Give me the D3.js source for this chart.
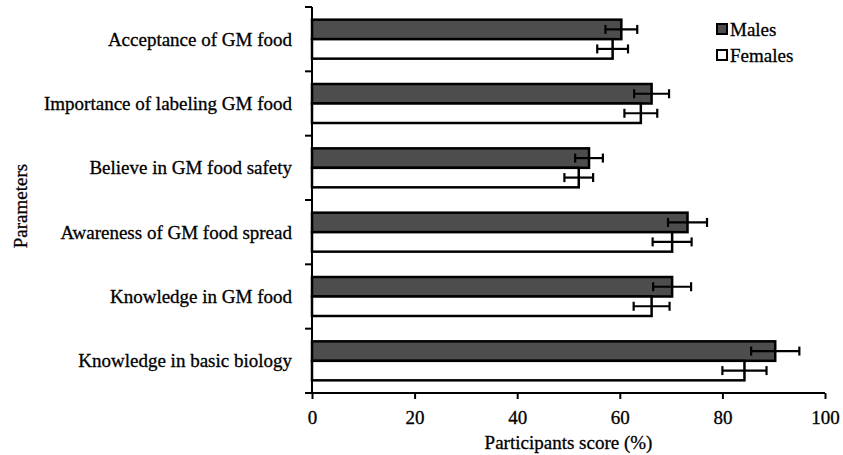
<!DOCTYPE html>
<html>
<head>
<meta charset="utf-8">
<script src="https://cdn.jsdelivr.net/npm/d3@7"></script>
<style>
  body { margin: 0; background: #fff; }
  svg text { font-family: "Liberation Serif", "Times New Roman", serif !important; fill: #000; stroke: #000; stroke-width: 0.3px; }
</style>
</head>
<body>
<svg id="chart" width="843" height="455"></svg>
<script>
const categories = [
  "Acceptance of GM food",
  "Importance of labeling GM food",
  "Believe in GM food safety",
  "Awareness of GM food spread",
  "Knowledge in GM food",
  "Knowledge in basic biology"
];
const males = [60.3, 66.2, 54.0, 73.2, 70.2, 90.3];
const maleErr = [3.1, 3.4, 2.7, 3.8, 3.7, 4.7];
const females = [58.6, 64.1, 52.0, 70.2, 66.2, 84.3];
const femaleErr = [3.0, 3.2, 2.8, 3.8, 3.5, 4.3];
const groups = ["Males", "Females"];
const xTicks = [0, 20, 40, 60, 80, 100];

const svg = d3.select("#chart"),
  margin = {top: 7, right: 18, bottom: 62, left: 312},
  width = 843 - margin.left - margin.right,
  height = 455 - margin.top - margin.bottom,
  g = svg.append("g").attr("transform", "translate(" + margin.left + "," + margin.top + ")");

const x = d3.scaleLinear().domain([0, 100]).range([0, width]);
const y = d3.scaleBand().domain(categories).range([0, height]).padding(0);
const y1 = d3.scaleBand().domain(groups).range([0, y.bandwidth()]).paddingInner(0).paddingOuter(0.65);
const fill = d3.scaleOrdinal().domain(groups).range(["#4d4d4d", "#ffffff"]);

const rows = categories.map((c, i) => ({
  cat: c,
  bars: [
    {key: "Males", value: males[i], err: maleErr[i]},
    {key: "Females", value: females[i], err: femaleErr[i]}
  ]
}));

// bars
const row = g.selectAll(".row")
  .data(rows)
  .enter().append("g")
    .attr("class", "row")
    .attr("transform", (d) => "translate(0," + y(d.cat) + ")");

row.selectAll("rect")
  .data((d) => d.bars)
  .enter().append("rect")
    .attr("x", x(0))
    .attr("y", (d) => y1(d.key))
    .attr("width", (d) => x(d.value) - x(0))
    .attr("height", y1.bandwidth())
    .attr("fill", (d) => fill(d.key))
    .attr("stroke", "#000")
    .attr("stroke-width", 2.5);

// error bars
const err = row.selectAll(".err")
  .data((d) => d.bars)
  .enter().append("g")
    .attr("class", "err")
    .attr("stroke", "#000")
    .attr("stroke-width", 2.2);

err.append("line")
  .attr("x1", (d) => x(d.value - d.err))
  .attr("x2", (d) => x(d.value + d.err))
  .attr("y1", (d) => y1(d.key) + y1.bandwidth() / 2)
  .attr("y2", (d) => y1(d.key) + y1.bandwidth() / 2);

[-1, 1].forEach((s) => {
  err.append("line")
    .attr("x1", (d) => x(d.value + s * d.err))
    .attr("x2", (d) => x(d.value + s * d.err))
    .attr("y1", (d) => y1(d.key) + y1.bandwidth() / 2 - 4.5)
    .attr("y2", (d) => y1(d.key) + y1.bandwidth() / 2 + 4.5);
});

// x axis
const xAxis = g.append("g")
  .attr("transform", "translate(0," + height + ")")
  .call(d3.axisBottom(x).tickValues(xTicks).tickSize(6).tickSizeOuter(0).tickPadding(12));
xAxis.select(".domain").attr("stroke-width", 2).attr("d", "M-7,0H" + width);
xAxis.selectAll(".tick line").attr("stroke-width", 2);
xAxis.selectAll("text").style("font-size", "19px");

xAxis.append("text")
  .attr("x", width / 2)
  .attr("y", 56)
  .attr("text-anchor", "middle")
  .style("font-size", "19px")
  .text("Participants score (%)");

// y axis (ticks sit between categories)
const yAxis = g.append("g");
yAxis.append("line")
  .attr("x1", 0).attr("x2", 0)
  .attr("y1", 0).attr("y2", height)
  .attr("stroke", "#000").attr("stroke-width", 2);
yAxis.selectAll(".ytick")
  .data(d3.range(categories.length + 1))
  .enter().append("line")
    .attr("x1", -7).attr("x2", 0)
    .attr("y1", (i) => i * y.step())
    .attr("y2", (i) => i * y.step())
    .attr("stroke", "#000").attr("stroke-width", 2);
yAxis.selectAll(".ylab")
  .data(categories)
  .enter().append("text")
    .attr("x", -20)
    .attr("y", (d) => y(d) + y.bandwidth() / 2)
    .attr("dy", "0.35em")
    .attr("text-anchor", "end")
    .style("font-size", "19px")
    .text((d) => d);

svg.append("text")
  .attr("transform", "translate(27," + 206 + ") rotate(-90)")
  .attr("text-anchor", "middle")
  .style("font-size", "19px")
  .text("Parameters");

// legend
const legend = svg.append("g").attr("transform", "translate(717,24)");
const item = legend.selectAll(".item")
  .data(groups)
  .enter().append("g")
    .attr("transform", (d, i) => "translate(0," + i * 26 + ")");
item.append("rect")
  .attr("width", 10).attr("height", 10)
  .attr("fill", (d) => fill(d))
  .attr("stroke", "#000").attr("stroke-width", 2);
item.append("text")
  .attr("x", 13)
  .attr("y", 5)
  .attr("dy", "0.35em")
  .style("font-size", "19px")
  .text((d) => d);
</script>
</body>
</html>
